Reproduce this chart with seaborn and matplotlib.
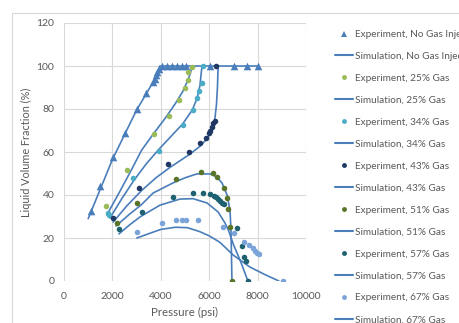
import matplotlib
matplotlib.use("Agg")
import matplotlib.pyplot as plt
from matplotlib.lines import Line2D
import seaborn as sns

sns.set_theme(style="white")
plt.rcParams['font.family'] = ['Lato', 'DejaVu Sans']

# --- Experimental points (pressure in psi, liquid volume fraction in %) ---
exp_nogas_p = [1100, 1490, 2025, 2500, 3010, 3400, 3680, 3750, 3800, 3850, 3920,
               4050, 4250, 4460, 4670, 4870, 5040, 6030, 7020, 7560, 8010]
exp_nogas_v = [32.6, 44.2, 57.7, 68.8, 80.0, 87.4, 92.6, 94.0, 95.8, 97.2, 98.5,
               100, 100, 100, 100, 100, 100, 100, 100, 100, 100]

exp_25_p = [1730, 2620, 3720, 4340, 4750, 5000, 5120, 5140, 5290]
exp_25_v = [34.9, 51.4, 68.4, 76.7, 84.2, 89.8, 93.5, 97.0, 99.5]

exp_34_p = [1820, 1880, 2850, 3920, 4920, 5330, 5490, 5580, 5700, 5740]
exp_34_v = [31.6, 30.5, 47.9, 60.5, 72.6, 79.5, 85.1, 88.6, 92.0, 100]

exp_43_p = [2030, 3100, 4300, 5160, 5620, 5860, 5990, 6030, 6110, 6150, 6240, 6280]
exp_43_v = [29.3, 43.3, 54.5, 60.0, 64.0, 66.5, 68.8, 70.0, 71.6, 73.5, 74.4, 100]

exp_51_p = [2190, 3010, 4630, 5660, 6150, 6320, 6610, 6740, 6780, 6860, 6940]
exp_51_v = [27.0, 36.3, 47.4, 50.5, 50.2, 48.4, 43.3, 38.6, 33.5, 25.1, 0]

exp_57_p = [2270, 3220, 4500, 5330, 5740, 6030, 6200, 6280, 6370, 6450, 6530, 6610,
            7150, 7350, 7440, 7520, 7600]
exp_57_v = [24.2, 32.1, 39.3, 40.9, 40.9, 40.5, 39.5, 39.0, 38.1, 37.2, 36.3, 35.8,
            24.7, 16.3, 11.2, 9.3, 0]

exp_67_p = [3010, 4040, 4630, 4870, 5040, 5530, 6570, 7020, 7440, 7640, 7810, 7890,
            7970, 8060, 9050]
exp_67_v = [22.8, 27.0, 28.4, 28.4, 28.4, 28.4, 25.1, 22.3, 18.1, 16.7, 15.3, 14.0,
            13.0, 12.6, 0]

# --- Simulated curves ---
sim_nogas_p = [1000, 2000, 3000, 3500, 3800, 3960, 8000]
sim_nogas_v = [29.0, 56.5, 79.5, 89.0, 95.0, 100, 100]

sim_25_p = [1770, 2300, 2800, 3210, 3700, 4200, 4600, 4900, 5100, 5220, 5290]
sim_25_v = [30.7, 41.5, 52.0, 60.9, 68.5, 76.0, 82.5, 88.0, 93.0, 96.5, 100]

sim_34_p = [1900, 2400, 2900, 3400, 3900, 4400, 4900, 5300, 5500, 5620, 5700]
sim_34_v = [29.3, 38.5, 47.0, 54.5, 61.0, 67.0, 73.0, 79.5, 85.0, 91.0, 100]

sim_43_p = [2030, 2600, 3200, 3800, 4400, 4710, 5200, 5600, 5900, 6100, 6230, 6300, 6340, 6370]
sim_43_v = [27.4, 35.0, 42.0, 48.0, 53.0, 55.3, 59.0, 62.5, 66.0, 70.0, 75.0, 82.0, 90.0, 100]

sim_51_p = [2150, 2700, 3200, 3680, 4500, 5000, 5490, 6030, 6300, 6530, 6740, 6860, 6900, 6920, 6940]
sim_51_v = [25.6, 31.0, 35.5, 40.9, 45.6, 48.0, 49.8, 49.8, 48.5, 45.6, 40.0, 33.0, 23.7, 12.0, 0]

sim_57_p = [2270, 2700, 3140, 3970, 4790, 5330, 5910, 6370, 6650, 6800, 7000, 7300, 7600]
sim_57_v = [21.9, 26.0, 29.8, 35.3, 38.1, 38.3, 36.3, 32.1, 27.0, 23.5, 17.0, 9.0, 0]

sim_67_p = [3010, 3500, 4000, 4600, 5100, 5600, 6000, 6440, 7000, 7680, 8300, 8880]
sim_67_v = [20.0, 22.0, 24.0, 25.0, 24.8, 23.0, 21.0, 18.0, 12.0, 6.5, 3.0, 0]

case_names = ["No Gas Injection", "25% Gas", "34% Gas", "43% Gas",
              "51% Gas", "57% Gas", "67% Gas"]
x_ticks = [0, 2000, 4000, 6000, 8000, 10000]
y_ticks = [0, 20, 40, 60, 80, 100, 120]

line_blue = "#4A7EBB"
point_colors = [line_blue, "#9BBB59", "#4BACC6", "#1F3864",
                "#5A7429", "#1E6171", "#7BA4D8"]
point_markers = ["^", "o", "o", "o", "o", "o", "o"]
point_sizes = [30, 16, 16, 16, 16, 16, 16]

experiments = [(exp_nogas_p, exp_nogas_v), (exp_25_p, exp_25_v), (exp_34_p, exp_34_v),
               (exp_43_p, exp_43_v), (exp_51_p, exp_51_v), (exp_57_p, exp_57_v),
               (exp_67_p, exp_67_v)]
simulations = [(sim_nogas_p, sim_nogas_v), (sim_25_p, sim_25_v), (sim_34_p, sim_34_v),
               (sim_43_p, sim_43_v), (sim_51_p, sim_51_v), (sim_57_p, sim_57_v),
               (sim_67_p, sim_67_v)]

fig = plt.figure(figsize=(4.6, 3.23), dpi=100)
ax = fig.add_axes([64 / 460, 1 - 281 / 323, (306 - 64) / 460, (281 - 23) / 323])

for (sp, sv) in simulations:
    sns.lineplot(x=sp, y=sv, sort=False, estimator=None, color=line_blue,
                 linewidth=1.2, ax=ax, zorder=2, legend=False)

for (ep, ev), col, mk, sz in zip(experiments, point_colors, point_markers, point_sizes):
    sns.scatterplot(x=ep, y=ev, color=col, marker=mk, s=sz, linewidth=0,
                    ax=ax, zorder=3, legend=False)

ax.set_xlim(0, 10000)
ax.set_ylim(0, 120)
ax.set_xticks(x_ticks)
ax.set_yticks(y_ticks)
ax.grid(True, color="#D9D9D9", linewidth=0.8)
for s in ax.spines.values():
    s.set_visible(False)
ax.tick_params(axis="both", length=0, labelsize=7.5, colors="#595959")
ax.tick_params(axis="x", pad=8)
ax.tick_params(axis="y", pad=7)
ax.set_xlabel("Pressure (psi)", fontsize=8.3, color="#595959", labelpad=4)
ax.set_ylabel("Liquid Volume Fraction (%)", fontsize=7.8, color="#595959", labelpad=3)

# Legend: experiment markers interleaved with simulation lines
handles, labels = [], []
for name, col, mk in zip(case_names, point_colors, point_markers):
    handles.append(Line2D([], [], ls="", marker=mk, color=col,
                          markersize=4.5 if mk == "^" else 3.5, markeredgewidth=0))
    labels.append(f"Experiment, {name}")
    handles.append(Line2D([], [], color=line_blue, linewidth=1.5))
    labels.append(f"Simulation, {name}")

leg = fig.legend(handles, labels, loc="upper left", bbox_to_anchor=(0.729, 0.907),
                 frameon=False, fontsize=7.2, handlelength=1.8, handletextpad=0.2,
                 labelspacing=1.295, borderpad=0, borderaxespad=0)
for t in leg.get_texts():
    t.set_color("#595959")

# Chart area border
fig.add_artist(Line2D([12 / 460, 1.0], [1 - 13 / 323, 1 - 13 / 323],
                      transform=fig.transFigure, color="#D9D9D9", linewidth=0.8))
fig.add_artist(Line2D([12 / 460, 12 / 460], [0.0, 1 - 13 / 323],
                      transform=fig.transFigure, color="#D9D9D9", linewidth=0.8))

fig.savefig("out.png", dpi=100)
